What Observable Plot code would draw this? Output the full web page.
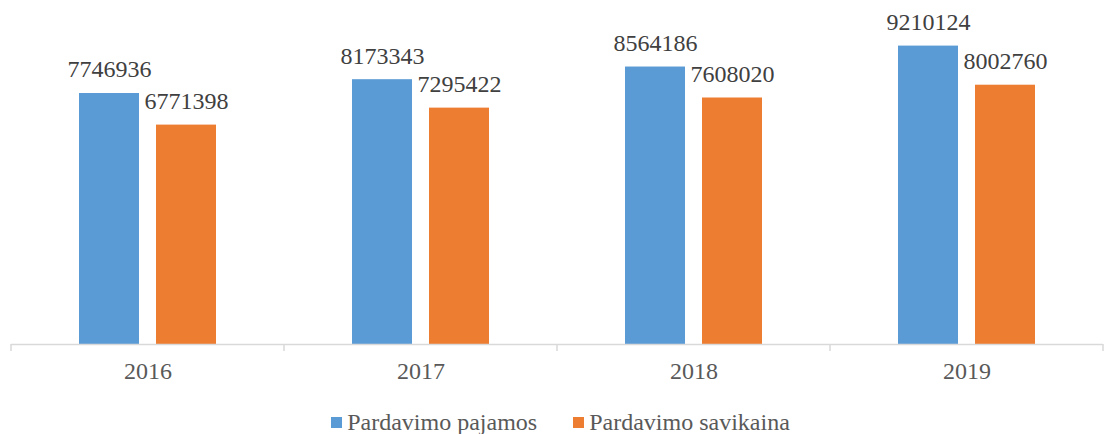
<!DOCTYPE html>
<html><head><meta charset="utf-8">
<script src="https://cdn.jsdelivr.net/npm/d3@7"></script>
<script src="https://cdn.jsdelivr.net/npm/@observablehq/plot@0.6"></script>
<style>
body{margin:0;background:#fff;font-family:"Liberation Serif","Times New Roman",serif;width:1108px;}
#legend{display:flex;justify-content:center;font-size:24px;line-height:24px;color:#595959;margin-top:6px;padding-left:13px;white-space:nowrap}
.item{display:inline-block;margin:0 18px}
.sw{display:inline-block;width:11px;height:11px;vertical-align:2px;margin-right:5px}
</style>
</head><body>
<div id="chart"></div>
<div id="legend"></div>
<script>
const years = ["2016", "2017", "2018", "2019"];
const series = ["Pardavimo pajamos", "Pardavimo savikaina"];
const pajamos = [7746936, 8173343, 8564186, 9210124];
const savikaina = [6771398, 7295422, 7608020, 8002760];
const colors = ["#5B9BD5", "#ED7D31"];

const data = years.flatMap((y, i) => [
  {year: y, series: series[0], value: pajamos[i]},
  {year: y, series: series[1], value: savikaina[i]}
]);

const chart = Plot.plot({
  width: 1108, height: 404,
  marginTop: 20, marginBottom: 60, marginLeft: 10, marginRight: 4,
  style: {fontFamily: "'Liberation Serif', 'Times New Roman', serif", fontSize: "24px", color: "#595959", background: "#fff"},
  fx: {domain: years, padding: 0, label: null, tickSize: 0, tickPadding: 17},
  x: {domain: series, axis: null, paddingInner: 0.218, paddingOuter: 0.86},
  y: {domain: [0, 10000000], axis: null},
  color: {domain: series, range: colors},
  marks: [
    Plot.barY(data, {fx: "year", x: "series", y: "value", fill: "series"}),
    Plot.text(data, {fx: "year", x: "series", y: "value", text: d => String(d.value), dy: -16, lineAnchor: "bottom", fill: "#404040", fontSize: 24}),
    Plot.ruleY([0], {stroke: "#d9d9d9", strokeWidth: 1.5})
  ]
});
document.getElementById("chart").appendChild(chart);

// category boundary ticks from the fx scale
const fx = chart.scale("fx");
const ys = chart.scale("y");
const y0 = ys.apply(0);
const bounds = years.map(y => fx.apply(y)).concat([fx.apply(years[years.length - 1]) + fx.bandwidth]);
const svg = d3.select(chart);
svg.append("g").selectAll("line").data(bounds).join("line")
  .attr("x1", d => d).attr("x2", d => d)
  .attr("y1", y0).attr("y2", y0 + 7)
  .attr("stroke", "#d9d9d9").attr("stroke-width", 1.5);

const legend = d3.select("#legend");
series.forEach((s, i) => {
  const it = legend.append("span").attr("class", "item");
  it.append("span").attr("class", "sw").style("background", colors[i]);
  it.append("span").text(s);
});
</script>
</body></html>
